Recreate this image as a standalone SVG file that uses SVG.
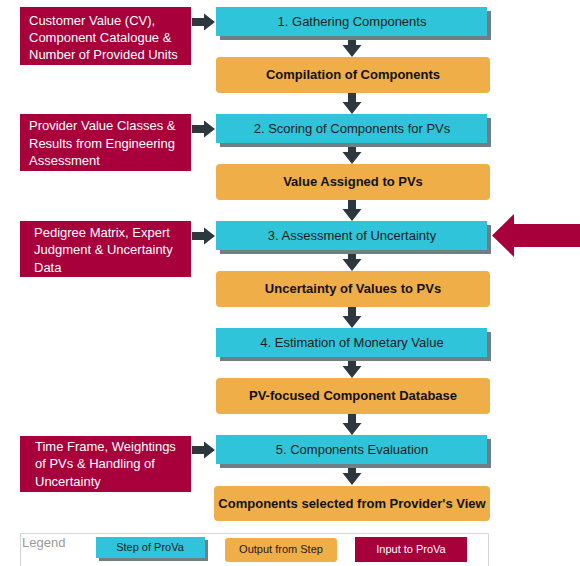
<svg xmlns="http://www.w3.org/2000/svg" width="580" height="566" viewBox="0 0 580 566">
  <style>
    .step { fill: #2fc4da; }
    .shadow { fill: #6f7f86; }
    .out { fill: #efae48; }
    .inp { fill: #a8003b; }
    .arrow { fill: #2c383e; }
    .t { font-family: "Liberation Sans", Arial, sans-serif; font-size: 13px; }
    .stepText { fill: #1c1c1c; text-anchor: middle; }
    .outText { fill: #111; text-anchor: middle; font-weight: bold; }
    .inpText { fill: #ffffff; }
    .small { font-size: 11px; }
  </style>
  <defs>
    <!-- vertical flow arrow, tip at origin's bottom (0,21) -->
    <path id="down" d="M-4,0 H4 V9 H9.5 L0,21 L-9.5,9 H-4 Z"/>
    <!-- horizontal input arrow, tip at (23,0) -->
    <path id="right" d="M0,-4 H12 V-8.5 L23,0 L12,8.5 V4 H0 Z"/>
  </defs>

  <rect width="580" height="566" fill="#ffffff"/>

  <!-- connectors -->
  <g id="connectors" class="arrow">
    <use href="#down" x="352" y="36"/>
    <use href="#down" x="352" y="93"/>
    <use href="#down" x="352" y="143"/>
    <use href="#down" x="352" y="200"/>
    <use href="#down" x="352" y="250"/>
    <use href="#down" x="352" y="307"/>
    <use href="#down" x="352" y="357"/>
    <use href="#down" x="352" y="414"/>
    <use href="#down" x="352" y="464"/>
    <use href="#right" x="192" y="22"/>
    <use href="#right" x="192" y="129"/>
    <use href="#right" x="192" y="236"/>
    <use href="#right" x="192" y="450"/>
  </g>

  <!-- highlight arrow pointing at step 3 -->
  <g id="highlight">
    <path class="inp" d="M580,224 H514 V214 L492,235.5 L514,257 V247 H580 Z"/>
  </g>

  <!-- inputs -->
  <g id="input1">
    <rect class="inp" x="20" y="7" width="171" height="58"/>
    <text class="t inpText" x="29" y="25">Customer Value (CV),</text>
    <text class="t inpText" x="29" y="42">Component Catalogue &amp;</text>
    <text class="t inpText" x="29" y="59">Number of Provided Units</text>
  </g>
  <g id="input2">
    <rect class="inp" x="20" y="114" width="171" height="57"/>
    <text class="t inpText" x="29" y="130">Provider Value Classes &amp;</text>
    <text class="t inpText" x="29" y="148">Results from Engineering</text>
    <text class="t inpText" x="29" y="165">Assessment</text>
  </g>
  <g id="input3">
    <rect class="inp" x="20" y="221" width="171" height="56"/>
    <text class="t inpText" x="34" y="237">Pedigree Matrix, Expert</text>
    <text class="t inpText" x="34" y="254">Judgment &amp; Uncertainty</text>
    <text class="t inpText" x="34" y="272">Data</text>
  </g>
  <g id="input5">
    <rect class="inp" x="20" y="436" width="171" height="56"/>
    <text class="t inpText" x="35" y="451">Time Frame, Weightings</text>
    <text class="t inpText" x="35" y="468">of PVs &amp; Handling of</text>
    <text class="t inpText" x="35" y="486">Uncertainty</text>
  </g>

  <!-- steps -->
  <g id="step1">
    <rect class="shadow" x="220" y="11" width="271" height="29"/>
    <rect class="step" x="216" y="7" width="271" height="29"/>
    <text class="t stepText" x="352" y="26">1. Gathering Components</text>
  </g>
  <g id="step2">
    <rect class="shadow" x="220" y="118" width="271" height="29"/>
    <rect class="step" x="216" y="114" width="271" height="29"/>
    <text class="t stepText" x="352" y="133">2. Scoring of Components for PVs</text>
  </g>
  <g id="step3">
    <rect class="shadow" x="220" y="225" width="271" height="29"/>
    <rect class="step" x="216" y="221" width="271" height="29"/>
    <text class="t stepText" x="352" y="240">3. Assessment of Uncertainty</text>
  </g>
  <g id="step4">
    <rect class="shadow" x="220" y="332" width="271" height="29"/>
    <rect class="step" x="216" y="328" width="271" height="29"/>
    <text class="t stepText" x="352" y="347">4. Estimation of Monetary Value</text>
  </g>
  <g id="step5">
    <rect class="shadow" x="220" y="439" width="271" height="29"/>
    <rect class="step" x="216" y="435" width="271" height="29"/>
    <text class="t stepText" x="352" y="454">5. Components Evaluation</text>
  </g>

  <!-- outputs -->
  <g id="out1">
    <rect class="out" x="216" y="57" width="274" height="36" rx="4"/>
    <text class="t outText" x="353" y="79">Compilation of Components</text>
  </g>
  <g id="out2">
    <rect class="out" x="216" y="164" width="274" height="36" rx="4"/>
    <text class="t outText" x="353" y="186">Value Assigned to PVs</text>
  </g>
  <g id="out3">
    <rect class="out" x="216" y="271" width="274" height="36" rx="4"/>
    <text class="t outText" x="353" y="293">Uncertainty of Values to PVs</text>
  </g>
  <g id="out4">
    <rect class="out" x="216" y="378" width="274" height="36" rx="4"/>
    <text class="t outText" x="353" y="400">PV-focused Component Database</text>
  </g>
  <g id="out5">
    <rect class="out" x="214" y="486" width="276" height="35" rx="4"/>
    <text class="t outText" x="352" y="508">Components selected from Provider's View</text>
  </g>

  <!-- legend -->
  <g id="legend">
    <path d="M20.5,566 V533.5 H488.5 V566" fill="none" stroke="#d4d4d4" stroke-width="1"/>
    <text class="t" x="22" y="547" fill="#9a9a9a">Legend</text>
    <rect class="shadow" x="99" y="540" width="109" height="21"/>
    <rect class="step" x="96" y="537" width="109" height="21"/>
    <text class="t small stepText" x="150" y="551">Step of ProVa</text>
    <rect class="out" x="225" y="538" width="112" height="24" rx="3"/>
    <text class="t small" x="281" y="553" fill="#1c1c1c" text-anchor="middle">Output from Step</text>
    <rect class="inp" x="355" y="537" width="112" height="25"/>
    <text class="t small inpText" x="411" y="553" text-anchor="middle">Input to ProVa</text>
  </g>
</svg>
